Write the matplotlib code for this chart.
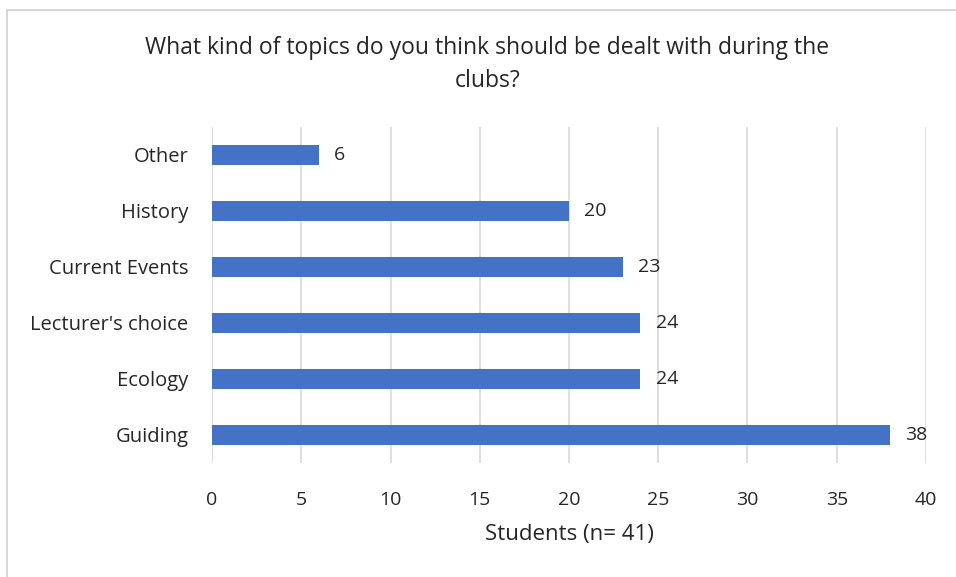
import matplotlib
matplotlib.use("Agg")
import matplotlib.pyplot as plt
from matplotlib.patches import Rectangle

plt.rcParams['font.family'] = ['Open Sans', 'DejaVu Sans']

# data, top to bottom as shown
topics = ["Other", "History", "Current Events", "Lecturer's choice", "Ecology", "Guiding"]
students = [6, 20, 23, 24, 24, 38]
xticks = [0, 5, 10, 15, 20, 25, 30, 35, 40]

bar_color = '#4472C4'
text_color = '#262626'

fig = plt.figure(figsize=(9.56, 5.77), dpi=100)
ax = fig.add_axes([0.2218, 0.198, 0.7468, 0.582])

ypos = list(range(len(topics)))[::-1]
ax.barh(ypos, students, height=0.36, color=bar_color, zorder=3)

for y, v in zip(ypos, students):
    ax.text(v + 0.85, y, str(v), va='center', ha='left', fontsize=14, color=text_color, zorder=4)

ax.set_xlim(0, 40)
ax.set_ylim(-0.5, 5.5)
ax.set_yticks(ypos)
ax.set_yticklabels(topics, fontsize=14.5, color=text_color)
ax.set_xticks(xticks)
ax.set_xticklabels([str(t) for t in xticks], fontsize=14, color=text_color)
ax.tick_params(length=0)
ax.tick_params(axis='x', pad=20)
ax.tick_params(axis='y', pad=17)
ax.grid(axis='x', color='#d9d9d9', linewidth=1.2, zorder=0)
for s in ax.spines.values():
    s.set_visible(False)

ax.set_xlabel('Students (n= 41)', fontsize=16, color=text_color, labelpad=11)

fig.text(0.51, 0.937, 'What kind of topics do you think should be dealt with during the\nclubs?',
         ha='center', va='top', fontsize=16.5, color=text_color, linespacing=1.5)

# chart frame
fig.patches.append(Rectangle((7 / 956, -0.01), 1.0, 1 - 10 / 577 + 0.01, transform=fig.transFigure,
                             fill=False, edgecolor='#d0d0d0', linewidth=1.2))

fig.savefig('out.png', dpi=100)
